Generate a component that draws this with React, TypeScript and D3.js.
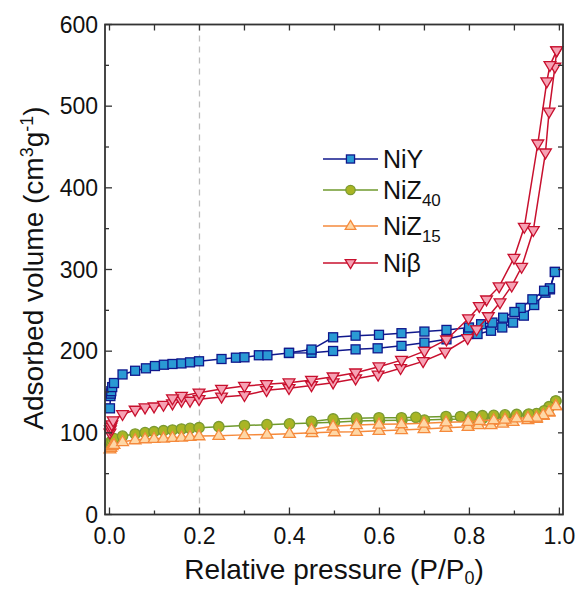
import React from "react";
import * as d3 from "d3";

// ---------- data ----------
const niYAdsX = [0.001,0.002,0.003,0.004,0.006,0.01,0.029,0.057,0.081,0.101,0.121,0.14,0.16,0.179,0.199,0.249,0.281,0.3,0.332,0.351,0.399,0.449,0.497,0.547,0.596,0.649,0.7,0.749,0.797,0.818,0.848,0.873,0.897,0.921,0.944,0.969,0.979,0.99];
const niYAdsY = [130,145,148,151,156,161,171.5,176,179,181.8,183.4,184.3,185,186.3,187.6,190.4,192,192.5,195,195,197.7,198,200.2,202.2,203.5,206.5,210.4,214.5,221,221,225,229,235,243.5,256.5,271.6,275.7,297];
const niYDesX = [0.99,0.979,0.966,0.94,0.914,0.9,0.875,0.851,0.826,0.799,0.749,0.7,0.649,0.599,0.547,0.497,0.449,0.399];
const niYDesY = [297,277,274,263.5,253,248,241,235,233,229,226,224,222,220,219,217,202,198];

const niZ40AdsX = [0.001,0.003,0.006,0.01,0.029,0.057,0.079,0.099,0.12,0.14,0.16,0.179,0.199,0.243,0.3,0.35,0.4,0.45,0.5,0.55,0.6,0.65,0.7,0.75,0.8,0.83,0.855,0.88,0.905,0.93,0.95,0.966,0.977,0.992];
const niZ40AdsY = [86,89,91,93,96,98.6,100.2,101.4,102.6,103.5,104.7,105.5,106.3,107.5,109,110,111,112,113,114.5,115,115.5,115.7,116.5,117,118,119,120,121,122,123,126,131,139];
const niZ40DesX = [0.992,0.977,0.966,0.949,0.932,0.905,0.879,0.854,0.829,0.805,0.78,0.748,0.681,0.649,0.599,0.549,0.497,0.449];
const niZ40DesY = [139,132,127,123.5,123,122.5,122,121.5,121,120,120,120,119,118.5,118.5,118,117,114];

const niZ15AdsX = [0.001,0.003,0.006,0.01,0.029,0.057,0.079,0.099,0.12,0.14,0.16,0.179,0.199,0.243,0.3,0.35,0.4,0.45,0.5,0.549,0.599,0.649,0.699,0.748,0.797,0.82,0.848,0.874,0.897,0.93,0.949,0.964,0.977,0.992];
const niZ15AdsY = [80,82,84,85.5,89,91.2,92.4,92.8,93.3,94,94.5,95.3,96.1,96.5,97.5,98,99,100,101,101.4,102.6,103.5,104.7,106.3,107.5,109.6,109.6,111.6,113.6,116,117.5,121,125,133];
const niZ15DesX = [0.992,0.977,0.964,0.949,0.93,0.905,0.879,0.854,0.822,0.797,0.748,0.699,0.649,0.599,0.549,0.497,0.449];
const niZ15DesY = [133,126,122,119,118.5,118,116.5,115.7,115,113.6,113,111.6,110.8,110.4,109.6,108,104];

const niBAdsX = [0.001,0.002,0.003,0.005,0.008,0.029,0.057,0.079,0.099,0.12,0.14,0.16,0.179,0.199,0.249,0.3,0.349,0.399,0.449,0.497,0.547,0.597,0.647,0.697,0.746,0.796,0.816,0.842,0.868,0.894,0.916,0.942,0.969,0.977,0.99,0.994];
const niBAdsY = [100,104,107,110,115,122.7,128,130.8,132,134,135.7,139,139,141,144,146,152,154.5,158,161.4,166.3,171,179,187.5,199,215.7,226.5,242.5,259.5,280,303,348,443,493,548,568];
const niBDesX = [0.994,0.979,0.972,0.952,0.922,0.899,0.866,0.838,0.822,0.798,0.749,0.7,0.649,0.599,0.547,0.497,0.449,0.399,0.349,0.3,0.249,0.199,0.16,0.14];
const niBDesY = [568,550,530,454,352,314,279,263,255,240,214,200,189,181,173.6,168.7,164.7,161.4,159.4,157.3,153.6,149,145,142];

const xMajorTicks = [0, 0.2, 0.4, 0.6, 0.8, 1.0];
const xMinorTicks = [0.1, 0.3, 0.5, 0.7, 0.9];
const yMajorTicks = [0, 100, 200, 300, 400, 500, 600];
const yMinorTicks = [50, 150, 250, 350, 450, 550];

type Series = {
  name: string; sub?: string; marker: string;
  line: string; fill: string; stroke: string;
  branches: [number[], number[]][];
};

const seriesList: Series[] = [
  { name: "NiY", marker: "square", line: "#10188c", fill: "#2a9ad4", stroke: "#10188c",
    branches: [[niYAdsX, niYAdsY], [niYDesX, niYDesY]] },
  { name: "NiZ", sub: "40", marker: "circle", line: "#6f9a2e", fill: "#a9b524", stroke: "#7a9a30",
    branches: [[niZ40AdsX, niZ40AdsY], [niZ40DesX, niZ40DesY]] },
  { name: "NiZ", sub: "15", marker: "triUp", line: "#f58a3c", fill: "#fed7a6", stroke: "#f58a3c",
    branches: [[niZ15AdsX, niZ15AdsY], [niZ15DesX, niZ15DesY]] },
  { name: "Ni\u03b2", marker: "triDown", line: "#c8102e", fill: "#f6a2b4", stroke: "#c8102e",
    branches: [[niBAdsX, niBAdsY], [niBDesX, niBDesY]] },
];

// ---------- layout ----------
const W = 580, H = 592;
const L = 105, R = 563, T = 24.5, B = 514.5;
const x = d3.scaleLinear().domain([-0.01, 1.008]).range([L, R]);
const y = d3.scaleLinear().domain([0, 600]).range([B, T]);
const FONT = "Liberation Sans, Arial, sans-serif";

function Marker({ type, cx, cy, fill, stroke, s = 1 }: any) {
  if (type === "square") {
    const h = 4.5 * s;
    return <rect x={cx - h} y={cy - h} width={2 * h} height={2 * h} fill={fill} stroke={stroke} strokeWidth={1.3} />;
  }
  if (type === "circle") {
    return <circle cx={cx} cy={cy} r={5.2 * s} fill={fill} stroke={stroke} strokeWidth={1.3} />;
  }
  const a = 6.2 * s;
  if (type === "triUp") {
    const p = `${cx},${cy - a} ${cx + a * 0.95},${cy + a * 0.6} ${cx - a * 0.95},${cy + a * 0.6}`;
    return <polygon points={p} fill={fill} stroke={stroke} strokeWidth={1.3} />;
  }
  const p = `${cx},${cy + a} ${cx + a * 0.95},${cy - a * 0.6} ${cx - a * 0.95},${cy - a * 0.6}`;
  return <polygon points={p} fill={fill} stroke={stroke} strokeWidth={1.3} />;
}

export default function App() {
  const line = d3.line<[number, number]>().x((d) => x(d[0])).y((d) => y(d[1]));
  const legendY = [159, 190, 226, 263];
  return (
    <svg width={W} height={H} style={{ display: "block", position: "absolute", left: 0, top: 0 }}>
      <rect width={W} height={H} fill="#fff" />
      {/* dashed reference line */}
      <line x1={x(0.2)} x2={x(0.2)} y1={T} y2={B} stroke="#bdbdbd" strokeWidth={1.3} strokeDasharray="6,5" />
      {/* series */}
      {seriesList.map((s, i) => (
        <g key={i}>
          {s.branches.map(([xs, ys], j) => (
            <path key={j} d={line(xs.map((v, k) => [v, ys[k]]) as any) || ""} fill="none" stroke={s.line} strokeWidth={1.5} />
          ))}
          {s.branches.map(([xs, ys], j) =>
            xs.map((v, k) => (
              <Marker key={`${j}-${k}`} type={s.marker} cx={x(v)} cy={y(ys[k])} fill={s.fill} stroke={s.stroke} />
            ))
          )}
        </g>
      ))}
      {/* axes frame */}
      <rect x={L} y={T} width={R - L} height={B - T} fill="none" stroke="#333" strokeWidth={1.8} />
      {/* x ticks */}
      {xMajorTicks.map((t) => (
        <g key={`xM${t}`}>
          <line x1={x(t)} x2={x(t)} y1={B} y2={B - 7} stroke="#333" strokeWidth={1.3} />
          <line x1={x(t)} x2={x(t)} y1={T} y2={T + 6} stroke="#333" strokeWidth={1.3} />
          <text x={x(t)} y={B + 29} textAnchor="middle" fontFamily={FONT} fontSize={23} fill="#111">{t.toFixed(1)}</text>
        </g>
      ))}
      {xMinorTicks.map((t) => (
        <g key={`xm${t}`}>
          <line x1={x(t)} x2={x(t)} y1={B} y2={B - 4} stroke="#333" strokeWidth={1.3} />
          <line x1={x(t)} x2={x(t)} y1={T} y2={T + 6} stroke="#333" strokeWidth={1.3} />
        </g>
      ))}
      {/* y ticks */}
      {yMajorTicks.map((t) => (
        <g key={`yM${t}`}>
          <line x1={L} x2={L + 7} y1={y(t)} y2={y(t)} stroke="#333" strokeWidth={1.3} />
          <line x1={R} x2={R - 5} y1={y(t)} y2={y(t)} stroke="#333" strokeWidth={1.3} />
          <text x={L - 7} y={y(t) + 8} textAnchor="end" fontFamily={FONT} fontSize={23} fill="#111">{t}</text>
        </g>
      ))}
      {yMinorTicks.map((t) => (
        <g key={`ym${t}`}>
          <line x1={L} x2={L + 4} y1={y(t)} y2={y(t)} stroke="#333" strokeWidth={1.3} />
          <line x1={R} x2={R - 5} y1={y(t)} y2={y(t)} stroke="#333" strokeWidth={1.3} />
        </g>
      ))}
      {/* axis titles */}
      <text x={334} y={579} textAnchor="middle" fontFamily={FONT} fontSize={28} fill="#111">
        Relative pressure (P/P<tspan fontSize={18} dy={5}>0</tspan><tspan dy={-5}>)</tspan>
      </text>
      <text transform={`translate(43,268) rotate(-90)`} textAnchor="middle" fontFamily={FONT} fontSize={28} fill="#111">
        Adsorbed volume (cm<tspan fontSize={18} dy={-10}>3</tspan><tspan dy={10}>g</tspan><tspan fontSize={18} dy={-10}>-1</tspan><tspan dy={10}>)</tspan>
      </text>
      {/* legend */}
      {seriesList.map((s, i) => (
        <g key={`lg${i}`}>
          <line x1={323} x2={378} y1={legendY[i]} y2={legendY[i]} stroke={s.line} strokeWidth={1.5} />
          <Marker type={s.marker} cx={350.5} cy={legendY[i]} fill={s.fill} stroke={s.stroke} s={0.9} />
          <text x={383} y={legendY[i] + 9} fontFamily={FONT} fontSize={25} fill="#111">
            {s.name}
            {s.sub ? <tspan fontSize={17} dy={7}>{s.sub}</tspan> : null}
          </text>
        </g>
      ))}
    </svg>
  );
}
